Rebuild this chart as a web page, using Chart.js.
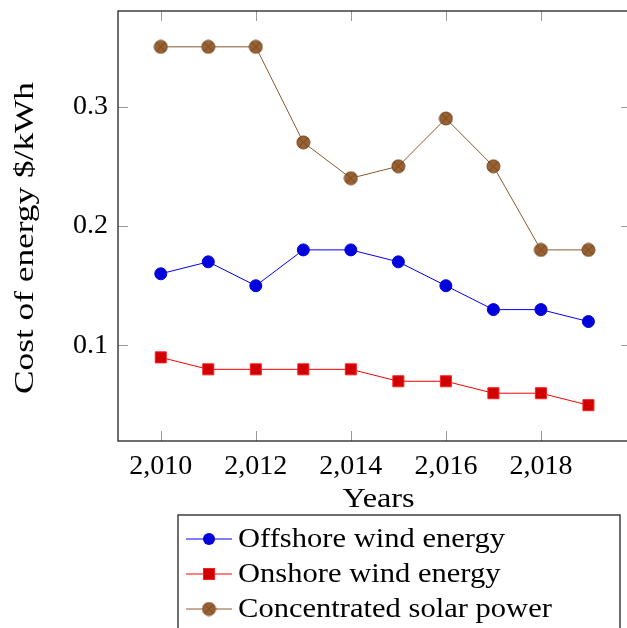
<!DOCTYPE html>
<html>
<head>
<meta charset="utf-8">
<script src="https://cdn.jsdelivr.net/npm/chart.js@4"></script>
<style>
  html, body { margin: 0; padding: 0; background: #fff; overflow: hidden; }
  #wrap { width: 640px; height: 628px; }
</style>
</head>
<body>
<div id="wrap"><canvas id="myChart" width="640" height="628"></canvas></div>
<script>
// values
var years = [2010, 2011, 2012, 2013, 2014, 2015, 2016, 2017, 2018, 2019];
var offshore = [0.16, 0.17, 0.15, 0.18, 0.18, 0.17, 0.15, 0.13, 0.13, 0.12];
var onshore = [0.09, 0.08, 0.08, 0.08, 0.08, 0.07, 0.07, 0.06, 0.06, 0.05];
var solar = [0.35, 0.35, 0.35, 0.27, 0.24, 0.25, 0.29, 0.25, 0.18, 0.18];
var xTicks = [2010, 2012, 2014, 2016, 2018];
var yTicks = [0.1, 0.2, 0.3];

var FONT = "'Liberation Serif', 'DejaVu Serif', serif";

function pts(vals) {
  return vals.map(function (v, i) { return { x: years[i], y: v }; });
}

// circle with a cross, like the otimes marker
function otimes(fill, stroke, r) {
  var c = document.createElement('canvas');
  var s = 2 * r + 2;
  c.width = s; c.height = s;
  var g = c.getContext('2d');
  g.fillStyle = fill;
  g.strokeStyle = stroke;
  g.lineWidth = 1;
  g.beginPath();
  g.arc(s / 2, s / 2, r, 0, 2 * Math.PI);
  g.fill();
  g.stroke();
  var d = r * 0.7;
  g.beginPath();
  g.moveTo(s / 2 - d, s / 2 - d); g.lineTo(s / 2 + d, s / 2 + d);
  g.moveTo(s / 2 + d, s / 2 - d); g.lineTo(s / 2 - d, s / 2 + d);
  g.stroke();
  return c;
}
var solarMark = otimes('#9a6233', '#744722', 6.5);

// text stretched to a target width (the reference font is wider)
function wideText(ctx, txt, x, y, w) {
  var k = w / ctx.measureText(txt).width;
  ctx.save();
  ctx.translate(x, y);
  ctx.scale(k, 1);
  ctx.fillText(txt, 0, 0);
  ctx.restore();
}

var frame = {
  id: 'frame',
  beforeDatasetsDraw: function (chart) {
    var ctx = chart.ctx, a = chart.chartArea;
    var xs = chart.scales.x, ys = chart.scales.y;
    ctx.save();
    ctx.strokeStyle = '#999';
    ctx.lineWidth = 1;
    ctx.beginPath();
    xs.ticks.forEach(function (t) {
      var px = Math.round(xs.getPixelForValue(t.value)) + 0.5;
      ctx.moveTo(px, a.bottom); ctx.lineTo(px, a.bottom - 10);
      ctx.moveTo(px, a.top); ctx.lineTo(px, a.top + 10);
    });
    ys.ticks.forEach(function (t) {
      var py = Math.round(ys.getPixelForValue(t.value)) + 0.5;
      ctx.moveTo(a.left, py); ctx.lineTo(a.left + 10, py);
      ctx.moveTo(a.right, py); ctx.lineTo(a.right - 10, py);
    });
    ctx.stroke();
    ctx.strokeStyle = '#222';
    ctx.lineWidth = 1.3;
    ctx.strokeRect(a.left, a.top, a.right - a.left, a.bottom - a.top);
    ctx.restore();
  },
  afterDraw: function (chart) {
    var ctx = chart.ctx, a = chart.chartArea;
    ctx.save();
    ctx.fillStyle = '#000';
    ctx.font = '28px ' + FONT;
    ctx.textAlign = 'center';
    ctx.textBaseline = 'middle';
    wideText(ctx, 'Years', (a.left + a.right) / 2 + 4, 500, 72);
    ctx.save();
    ctx.translate(26, 238);
    ctx.rotate(-Math.PI / 2);
    wideText(ctx, 'Cost of energy $/kWh', 0, 0, 312);
    ctx.restore();

    // legend box
    ctx.strokeStyle = '#222';
    ctx.lineWidth = 1.3;
    ctx.strokeRect(178, 515, 442, 120);
    ctx.textAlign = 'left';
    var k = 267 / ctx.measureText(chart.data.datasets[0].label).width;
    chart.data.datasets.forEach(function (ds, i) {
      var y = 539 + i * 35;
      ctx.strokeStyle = ds.borderColor;
      ctx.lineWidth = 1;
      ctx.beginPath();
      ctx.moveTo(186, y); ctx.lineTo(232, y);
      ctx.stroke();
      if (ds.pointStyle === 'circle') {
        ctx.fillStyle = ds.pointBackgroundColor;
        ctx.beginPath();
        ctx.arc(209, y, ds.pointRadius, 0, 2 * Math.PI);
        ctx.fill();
      } else if (ds.pointStyle === 'rect') {
        var h = ds.pointRadius * Math.SQRT1_2;
        ctx.fillStyle = ds.pointBackgroundColor;
        ctx.fillRect(209 - h, y - h, 2 * h, 2 * h);
        ctx.strokeStyle = ds.pointBorderColor;
        ctx.strokeRect(209 - h, y - h, 2 * h, 2 * h);
      } else {
        ctx.drawImage(ds.pointStyle, 209 - ds.pointStyle.width / 2, y - ds.pointStyle.height / 2);
      }
      ctx.fillStyle = '#000';
      wideText(ctx, ds.label, 238, y + 1, ctx.measureText(ds.label).width * k);
    });
    ctx.restore();
  }
};

var ctx = document.getElementById('myChart').getContext('2d');
var myChart = new Chart(ctx, {
  type: 'line',
  data: {
    datasets: [
      {
        label: 'Offshore wind energy',
        data: pts(offshore),
        borderColor: '#0000ff',
        borderWidth: 1,
        pointStyle: 'circle',
        pointRadius: 6,
        pointBackgroundColor: '#0000dd',
        pointBorderColor: '#0000dd',
        pointBorderWidth: 1
      },
      {
        label: 'Onshore wind energy',
        data: pts(onshore),
        borderColor: '#ff0000',
        borderWidth: 1,
        pointStyle: 'rect',
        pointRadius: 7.8,
        pointBackgroundColor: '#d00000',
        pointBorderColor: '#ff2020',
        pointBorderWidth: 1
      },
      {
        label: 'Concentrated solar power',
        data: pts(solar),
        borderColor: '#8a5a2e',
        borderWidth: 1,
        pointStyle: solarMark,
        pointRadius: 6.5
      }
    ]
  },
  plugins: [frame],
  options: {
    responsive: false,
    animation: false,
    layout: { padding: { left: 0, top: 11, right: 8, bottom: 0 } },
    plugins: {
      legend: { display: false },
      tooltip: { enabled: false }
    },
    scales: {
      x: {
        type: 'linear',
        min: 2009.1,
        max: 2019.9,
        afterBuildTicks: function (s) { s.ticks = xTicks.map(function (v) { return { value: v }; }); },
        afterFit: function (s) { s.height = 187; s.paddingLeft = 0; s.paddingRight = 0; },
        grid: { display: false, drawTicks: false },
        border: { display: false },
        ticks: {
          padding: 9,
          color: '#000',
          font: { family: FONT, size: 28 },
          maxRotation: 0,
          callback: function (v) { return v.toLocaleString('en-US'); }
        }
      },
      y: {
        type: 'linear',
        min: 0.02,
        max: 0.38,
        afterBuildTicks: function (s) { s.ticks = yTicks.map(function (v) { return { value: v }; }); },
        afterFit: function (s) { s.width = 118; s.paddingTop = 0; s.paddingBottom = 0; },
        grid: { display: false, drawTicks: false },
        border: { display: false },
        ticks: {
          padding: 10,
          color: '#000',
          font: { family: FONT, size: 28 },
          callback: function (v) { return v.toFixed(1); }
        }
      }
    }
  }
});
</script>
</body>
</html>
